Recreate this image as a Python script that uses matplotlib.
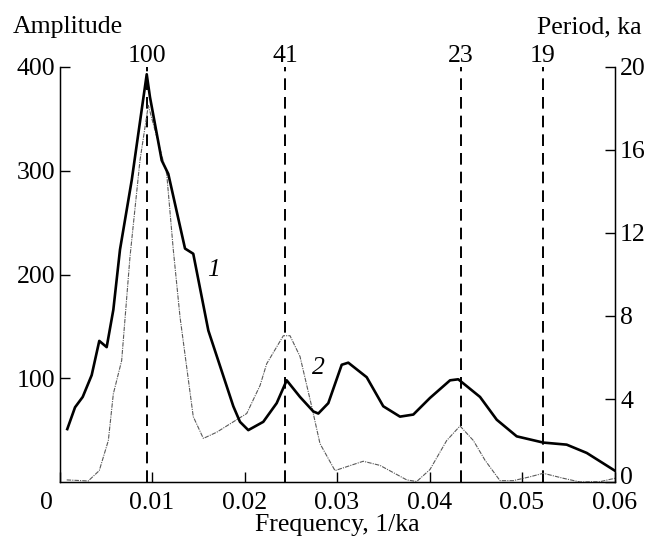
import matplotlib
matplotlib.use("Agg")
import matplotlib.pyplot as plt
from matplotlib.transforms import ScaledTranslation

plt.rcParams['font.family'] = ['Liberation Serif', 'DejaVu Serif']

# Curve 1 (thick black)
freq1 = [0.00084, 0.00168, 0.00251, 0.00348, 0.0043, 0.0051, 0.00582, 0.00654,
         0.00781, 0.00943, 0.00978, 0.01105, 0.01176, 0.01357, 0.01446, 0.01609,
         0.01879, 0.01951, 0.02041, 0.02203, 0.02348, 0.02456, 0.026, 0.02744,
         0.02798, 0.02906, 0.03051, 0.03122, 0.03321, 0.035, 0.03681, 0.03825,
         0.04005, 0.04222, 0.04311, 0.04546, 0.04727, 0.04943, 0.0523, 0.05483,
         0.057, 0.0602]
amp1 = [51, 72, 82, 103, 136, 130, 166, 224,
        291, 393, 371, 310, 297, 225, 220, 146,
        73, 58, 50, 58, 76, 98, 82, 68,
        66, 76, 113, 115, 101, 73, 63, 65,
        81, 98, 99, 82, 60, 44, 38, 36,
        28, 10]

# Curve 2 (thin grey)
freq2 = [0.00078, 0.00311, 0.0043, 0.00528, 0.00582, 0.00672, 0.00762, 0.0087,
         0.0096, 0.01159, 0.0123, 0.01303, 0.01446, 0.01555, 0.017, 0.01879,
         0.02024, 0.02168, 0.0224, 0.0242, 0.02492, 0.026, 0.02726, 0.02816,
         0.02978, 0.03284, 0.03465, 0.03754, 0.03862, 0.04005, 0.04186, 0.0433,
         0.04474, 0.046, 0.04762, 0.04906, 0.05086, 0.0523, 0.05446, 0.05627,
         0.05843, 0.06005]
amp2 = [2, 1, 11, 40, 85, 117, 217, 310,
        363, 297, 224, 159, 63, 42, 48, 58,
        66, 93, 114, 141, 141, 121, 73, 37,
        11, 20, 16, 2, 0.5, 12, 40, 54,
        40, 21, 1.3, 1.3, 5, 8.4, 3.6, 0,
        0.3, 3.6]

# Orbital periods (ka) and their marker frequencies
period_labels = ['100', '41', '23', '19']
period_freqs = [0.00943, 0.02438, 0.04341, 0.05227]

xticks = [0, 0.01, 0.02, 0.03, 0.04, 0.05, 0.06]
xticklabels = ['0', '0.01', '0.02', '0.03', '0.04', '0.05', '0.06']
yticks_left = [100, 200, 300, 400]
yticks_right = [0, 4, 8, 12, 16, 20]

FS = 18.5
fig = plt.figure(figsize=(6.5, 5.4), dpi=100)
ax = fig.add_axes([59.5/650, 1-482/540, (614.5-59.5)/650, (482-67)/540])

for f in period_freqs:
    ax.axvline(f, color='black', lw=1.4, linestyle=(0, (6, 3.6)), zorder=1)

ax.plot(freq2, amp2, color='#5a5a5a', lw=0.8, linestyle=(0, (4, 1, 1, 1)), zorder=2)
ax.plot(freq1, amp1, color='black', lw=1.9, zorder=3)

ax.set_xlim(0, 0.06)
ax.set_ylim(0, 400)
ax.set_xticks(xticks)
ax.set_xticklabels(xticklabels)
ax.set_yticks(yticks_left)
ax.spines['top'].set_visible(False)
for s in ['left', 'bottom', 'right']:
    ax.spines[s].set_linewidth(1.0)
ax.tick_params(axis='both', direction='in', length=7, width=1.0, labelsize=FS, pad=3)
ax.tick_params(axis='x', pad=7)

ax2 = ax.twinx()
ax2.set_ylim(0, 20)
ax2.set_yticks(yticks_right)
ax2.spines['top'].set_visible(False)
ax2.tick_params(axis='y', direction='in', length=7, width=1.0, labelsize=FS, pad=4)

# shift x "0" label left, and right-axis "0" up slightly
lbl0 = ax.get_xticklabels()[0]
lbl0.set_transform(lbl0.get_transform() + ScaledTranslation(-13/100, 0, fig.dpi_scale_trans))
r0 = ax2.get_yticklabels()[0]
r0.set_transform(r0.get_transform() + ScaledTranslation(0, 7/100, fig.dpi_scale_trans))

ax.set_xlabel('Frequency, 1/ka', fontsize=FS, labelpad=0)
fig.text(13/650, 1-27/540, 'Amplitude', fontsize=FS, ha='left', va='center')
fig.text(642/650, 1-27/540, 'Period, ka', fontsize=FS, ha='right', va='center')

for lab, f in zip(period_labels, period_freqs):
    ax.text(f, 1.0, lab, transform=ax.get_xaxis_transform(), fontsize=FS,
            ha='center', va='bottom')

ax.text(0.0166, 204, '1', fontsize=FS, style='italic', ha='center', va='center')
ax.text(0.0280, 110, '2', fontsize=FS, style='italic', ha='center', va='center')

fig.savefig('out.png', dpi=100)
